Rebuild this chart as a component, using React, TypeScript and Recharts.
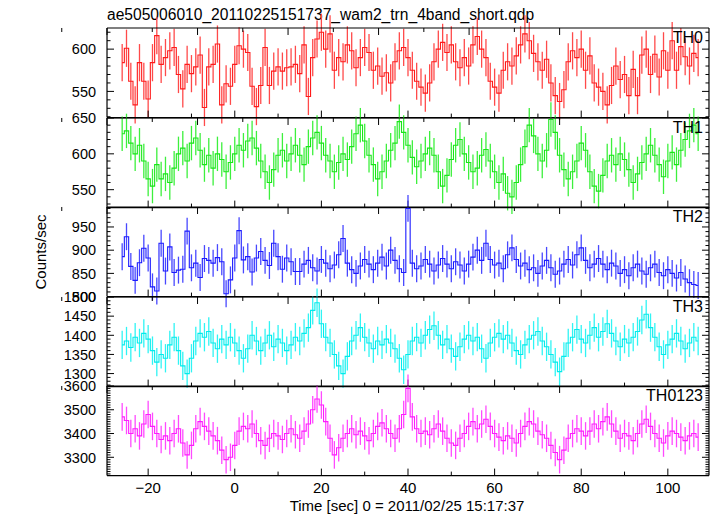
import React from "react";
import { ComposedChart, Line, XAxis, YAxis, ErrorBar } from "recharts";

// bin centres [sec], 1 s bins
const times = [
  -26, -25, -24, -23, -22, -21, -20, -19, -18, -17, -16, -15, -14, -13, -12, -11, -10, -9, -8, -7,
  -6, -5, -4, -3, -2, -1, 0, 1, 2, 3, 4, 5, 6, 7, 8, 9, 10, 11, 12, 13,
  14, 15, 16, 17, 18, 19, 20, 21, 22, 23, 24, 25, 26, 27, 28, 29, 30, 31, 32, 33,
  34, 35, 36, 37, 38, 39, 40, 41, 42, 43, 44, 45, 46, 47, 48, 49, 50, 51, 52, 53,
  54, 55, 56, 57, 58, 59, 60, 61, 62, 63, 64, 65, 66, 67, 68, 69, 70, 71, 72, 73,
  74, 75, 76, 77, 78, 79, 80, 81, 82, 83, 84, 85, 86, 87, 88, 89, 90, 91, 92, 93,
  94, 95, 96, 97, 98, 99, 100, 101, 102, 103, 104, 105, 106, 107,
];

const th0 = [
  584, 601, 562, 534, 584, 562, 541, 584, 616, 582, 590, 598, 602, 570, 553, 582, 571, 579, 593, 531,
  579, 582, 606, 534, 559, 556, 582, 604, 600, 596, 556, 532, 557, 602, 557, 574, 579, 574, 578, 579,
  582, 571, 605, 544, 590, 612, 620, 600, 618, 575, 590, 585, 605, 598, 578, 590, 602, 596, 575, 580,
  568, 572, 560, 585, 598, 602, 590, 575, 562, 555, 548, 560, 585, 600, 608, 596, 605, 585, 578, 590,
  580, 605, 615, 600, 590, 562, 555, 548, 575, 585, 580, 592, 605, 618, 610, 595, 585, 575, 588, 560,
  545, 538, 552, 585, 598, 590, 600, 575, 592, 560, 555, 550, 534, 557, 580, 564, 570, 545, 576, 545,
  593, 600, 570, 594, 567, 598, 575, 610, 575, 603, 591, 580, 595, 590,
];

const th1 = [
  628, 632, 615, 600, 612, 590, 565, 555, 585, 565, 572, 560, 580, 600, 608, 590, 615, 622, 605, 585,
  598, 580, 600, 592, 575, 588, 600, 612, 605, 618, 622, 608, 590, 575, 560, 578, 598, 605, 590, 600,
  612, 598, 585, 610, 622, 630, 615, 598, 590, 575, 588, 600, 592, 610, 628, 640, 618, 598, 585, 565,
  575, 590, 605, 615, 645, 630, 612, 595, 582, 590, 600, 608, 598, 575, 555, 570, 592, 612, 620, 600,
  588, 575, 580, 598, 606, 590, 575, 560, 572, 545, 540, 560, 585, 610, 640, 625, 600, 590, 605, 648,
  630, 598, 578, 565, 575, 590, 615, 605, 575, 555, 548, 570, 590, 598, 585, 600, 592, 578, 560, 572,
  588, 600, 612, 598, 585, 568, 590, 602, 585, 605, 620, 632, 640, 628,
];

const th2 = [
  886, 929, 865, 835, 873, 904, 883, 821, 812, 915, 855, 907, 852, 857, 859, 941, 862, 872, 841, 882,
  878, 872, 884, 875, 806, 836, 883, 942, 879, 886, 853, 883, 897, 878, 867, 915, 886, 859, 883, 875,
  854, 854, 870, 878, 862, 855, 880, 872, 860, 868, 890, 925, 872, 858, 850, 866, 880, 870, 858, 872,
  885, 866, 900, 878, 860, 852, 990, 872, 860, 866, 880, 870, 855, 868, 882, 870, 860, 875, 868, 855,
  870, 885, 900, 878, 915, 880, 868, 872, 860, 890, 905, 880, 866, 872, 858, 862, 850, 866, 878, 862,
  848, 855, 870, 880, 868, 890, 905, 878, 862, 870, 882, 870, 858, 872, 866, 850, 858, 845, 862, 870,
  855, 848, 862, 870, 852, 845, 858, 850, 840, 852, 838, 830, 826, 824,
];

const th3 = [
  1375, 1385, 1368, 1395, 1380, 1405, 1390, 1360, 1330, 1350, 1340, 1375, 1395, 1360, 1320, 1300, 1340, 1385, 1405, 1395,
  1410, 1380, 1365, 1390, 1375, 1395, 1380, 1360, 1340, 1365, 1400, 1385, 1360, 1380, 1400, 1370, 1390, 1380, 1360, 1375,
  1395, 1385, 1405, 1420, 1465, 1485, 1430, 1395, 1380, 1350, 1320, 1300, 1345, 1385, 1400, 1420, 1395, 1380, 1365, 1385,
  1375, 1390, 1380, 1365, 1340, 1310, 1350, 1385, 1395, 1380, 1400, 1415, 1425, 1400, 1375, 1390, 1365, 1345, 1370, 1390,
  1400, 1385, 1395, 1365, 1340, 1380, 1395, 1405, 1390, 1400, 1380, 1360, 1350, 1375, 1390, 1400, 1410, 1385, 1370, 1350,
  1330, 1305, 1345, 1380, 1395, 1415, 1390, 1380, 1400, 1420, 1395, 1410, 1430, 1405, 1385, 1370, 1390, 1380, 1395, 1410,
  1440, 1455, 1420, 1395, 1370, 1350, 1375, 1390, 1405, 1385, 1365, 1380, 1395, 1385,
];

const th0123 = [
  3470, 3455, 3400, 3420, 3390, 3440, 3480, 3430, 3400, 3375, 3390, 3370, 3400, 3420, 3360, 3310, 3350, 3420, 3450, 3430,
  3410, 3390, 3370, 3330, 3290, 3300, 3350, 3410, 3430, 3420, 3440, 3400, 3370, 3350, 3380, 3400, 3390, 3375, 3400, 3420,
  3395, 3380, 3410, 3440, 3500, 3545, 3520, 3450, 3380, 3310, 3340, 3380, 3400, 3420, 3395, 3410, 3390, 3370, 3400, 3430,
  3445, 3420, 3400, 3380, 3420, 3480, 3590, 3470, 3420, 3400, 3410, 3395, 3420, 3440, 3410, 3380, 3360, 3350, 3380, 3400,
  3430, 3450, 3420, 3440, 3460, 3430, 3400, 3385, 3370, 3390, 3380, 3360, 3400, 3430, 3450, 3440, 3410, 3395, 3380, 3350,
  3320, 3290, 3330, 3380, 3400, 3420, 3410, 3390, 3410, 3440, 3420, 3450, 3470, 3440, 3410, 3380, 3400, 3390, 3370, 3400,
  3440, 3460, 3430, 3400, 3380, 3360, 3390, 3410, 3400, 3385, 3370, 3390, 3400, 3385,
];

// typical 1-sigma half length of the error bars per panel
const err0 = 22;
const err1 = 24;
const err2 = 29;
const err3 = 37;
const err0123 = 58;

const xTicks = [-20, -10, 0, 10, 20, 30, 40, 50, 60, 70, 80, 90, 100];
const X_DOMAIN: [number, number] = [-29.5, 109.5];

const W = 717;
const LEFT = 107;
const RIGHT = 709;
const PH = 89.6;
const PAD = 24;
const CLIP = 55; // hide anything the chart leaves left of the tick labels
const FONT = "'Liberation Sans', Arial, Helvetica, sans-serif";

function range(lo: number, hi: number, step: number) {
  const out: number[] = [];
  for (let v = lo; v <= hi + 1e-9; v += step) out.push(v);
  return out;
}

function makeYTick(side: "left" | "right", major: number[]) {
  return (props: any) => {
    const x = Number(props.x);
    const y = Number(props.y);
    const v = props.payload.value;
    const isMajor = major.includes(v);
    const len = isMajor ? 7 : 3.5;
    const dir = side === "left" ? 1 : -1;
    return (
      <g>
        <line x1={x} x2={x + dir * len} y1={y} y2={y} stroke="#000" strokeWidth={1} />
        {side === "left" && isMajor && (
          <text x={x - 11} y={y} dy="0.36em" textAnchor="end" fontSize={14.5} fill="#000" fontFamily={FONT}>
            {v}
          </text>
        )}
      </g>
    );
  };
}

function makeXTick(side: "top" | "bottom", labels: boolean) {
  return (props: any) => {
    const x = Number(props.x);
    const y = Number(props.y);
    const v = props.payload.value;
    const isMajor = v % 20 === 0;
    const len = isMajor ? 7 : 4;
    const dir = side === "bottom" ? -1 : 1;
    return (
      <g>
        <line x1={x} x2={x} y1={y} y2={y + dir * len} stroke="#000" strokeWidth={1} />
        {labels && side === "bottom" && isMajor && (
          <text x={x} y={y + 17.5} textAnchor="middle" fontSize={15} fill="#000" fontFamily={FONT}>
            {v < 0 ? "\u2212" + Math.abs(v) : v}
          </text>
        )}
      </g>
    );
  };
}

type PanelProps = {
  values: number[];
  err: number;
  color: string;
  barColor: string;
  domain: [number, number];
  yTicks: number[];
  yMajor: number[];
  label: string;
  top: number;
  xLabels?: boolean;
};

const axisStroke = { stroke: "#000", strokeWidth: 1.2 };

function Panel({ values, err, color, barColor, domain, yTicks, yMajor, label, top, xLabels }: PanelProps) {
  const data = times.map((t, i) => ({ t, v: values[i], e: err }));
  return (
    <div
      style={{
        position: "absolute",
        left: CLIP,
        top: top - PAD,
        width: W - CLIP,
        height: PH + 2 * PAD,
        overflow: "hidden",
      }}
    >
      <div style={{ position: "absolute", left: -CLIP, top: 0 }}>
        <ComposedChart
          width={W}
          height={PH + 2 * PAD}
          data={data}
          margin={{ top: PAD - 1, bottom: PAD - 1, left: 0, right: W - RIGHT - 1 }}
        >
          <XAxis
            xAxisId="b"
            dataKey="t"
            type="number"
            domain={X_DOMAIN}
            allowDataOverflow
            ticks={xTicks}
            interval={0}
            height={1}
            tickSize={0}
            tickMargin={0}
            tick={makeXTick("bottom", !!xLabels)}
            axisLine={axisStroke}
            tickLine={false}
          />
          <XAxis
            xAxisId="t"
            orientation="top"
            type="number"
            domain={X_DOMAIN}
            allowDataOverflow
            ticks={xTicks}
            interval={0}
            height={1}
            tickSize={0}
            tickMargin={0}
            tick={makeXTick("top", false)}
            axisLine={axisStroke}
            tickLine={false}
          />
          <YAxis
            yAxisId="l"
            type="number"
            domain={domain}
            allowDataOverflow
            ticks={yTicks}
            interval={0}
            width={LEFT}
            tickSize={0}
            tickMargin={0}
            tick={makeYTick("left", yMajor)}
            axisLine={axisStroke}
            tickLine={false}
          />
          <YAxis
            yAxisId="r"
            orientation="right"
            type="number"
            domain={domain}
            allowDataOverflow
            ticks={yTicks}
            interval={0}
            width={1}
            tickSize={0}
            tickMargin={0}
            tick={makeYTick("right", yMajor)}
            axisLine={axisStroke}
            tickLine={false}
          />
          <Line
            xAxisId="b"
            yAxisId="l"
            dataKey="v"
            type="step"
            stroke={color}
            strokeWidth={1.1}
            dot={false}
            isAnimationActive={false}
          >
            <ErrorBar dataKey="e" direction="y" width={0} stroke={barColor} strokeWidth={1.3} isAnimationActive={false} />
          </Line>
        </ComposedChart>
        <div
          style={{
            position: "absolute",
            top: PAD + 1,
            right: W - 703,
            fontSize: 16,
            fontFamily: FONT,
            color: "#000",
            lineHeight: "18px",
          }}
        >
          {label}
        </div>
      </div>
    </div>
  );
}

export default function App() {
  const tops = [28, 117.6, 207.2, 296.8, 386.4];
  return (
    <div style={{ position: "absolute", left: 0, top: 0, width: W, height: 516, background: "#fff", fontFamily: FONT }}>
      <div style={{ position: "absolute", left: 107, top: 5, fontSize: 15.6, color: "#000", lineHeight: "20px" }}>
        ae505006010_20110225151737_wam2_trn_4band_short.qdp
      </div>
      <Panel values={th0} err={err0} color="#ff1a1a" barColor="#ff4a4a" domain={[519, 625]} yTicks={range(520, 620, 10)} yMajor={[550, 600]} label="TH0" top={tops[0]} />
      <Panel values={th1} err={err1} color="#19e619" barColor="#3df03d" domain={[525, 650]} yTicks={range(530, 650, 10)} yMajor={[550, 600, 650]} label="TH1" top={tops[1]} />
      <Panel values={th2} err={err2} color="#1a1aff" barColor="#4848ff" domain={[800, 993]} yTicks={range(800, 990, 10)} yMajor={[800, 850, 900, 950]} label="TH2" top={tops[2]} />
      <Panel values={th3} err={err3} color="#00ecec" barColor="#30f4f4" domain={[1266, 1500]} yTicks={range(1270, 1500, 10)} yMajor={[1300, 1350, 1400, 1450, 1500]} label="TH3" top={tops[3]} />
      <Panel values={th0123} err={err0123} color="#ff1aff" barColor="#ff4aff" domain={[3223, 3600]} yTicks={range(3230, 3600, 10)} yMajor={[3300, 3400, 3500, 3600]} label="TH0123" top={tops[4]} xLabels />
      <div
        style={{
          position: "absolute",
          left: 40,
          top: 252,
          transform: "translate(-50%, -50%) rotate(-90deg)",
          fontSize: 15,
          color: "#000",
          whiteSpace: "nowrap",
        }}
      >
        Counts/sec
      </div>
      <div style={{ position: "absolute", left: 0, width: 814, top: 496, textAlign: "center", fontSize: 15, color: "#000", lineHeight: "20px" }}>
        Time [sec] 0 = 2011/02/25 15:17:37
      </div>
    </div>
  );
}
